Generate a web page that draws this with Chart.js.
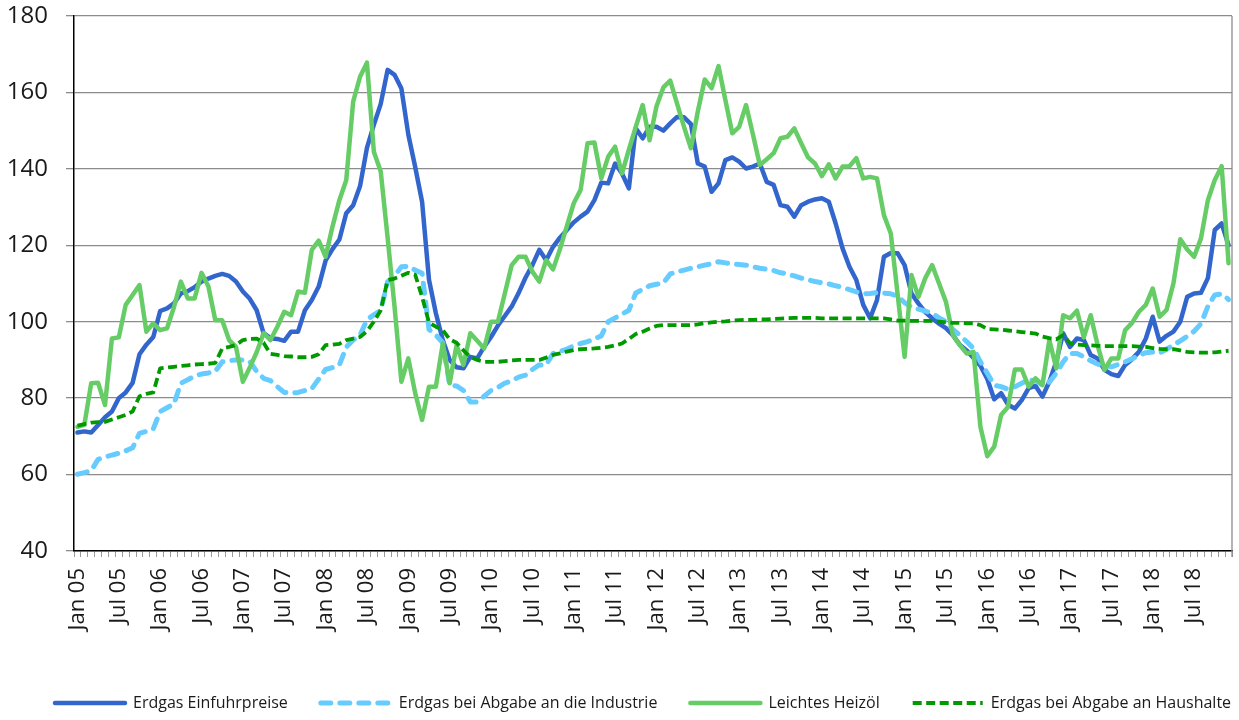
<!DOCTYPE html>
<html><head><meta charset="utf-8">
<script src="https://cdn.jsdelivr.net/npm/chart.js@4/dist/chart.umd.min.js"></script>
<style>html,body{margin:0;padding:0;background:#fff}#wrap{width:1239px;height:720px;position:relative}</style>
</head><body><div id="wrap"><canvas id="c"></canvas></div>
<script>
const monthNames = ['Jan','Feb','Mär','Apr','Mai','Jun','Jul','Aug','Sep','Okt','Nov','Dez'];
const yearLabels = ['05','06','07','08','09','10','11','12','13','14','15','16','17','18'];
const categories = [];
yearLabels.forEach(y => monthNames.forEach(m => categories.push(m + ' ' + y)));

const seriesNames = ['Erdgas Einfuhrpreise','Erdgas bei Abgabe an die Industrie','Leichtes Heizöl','Erdgas bei Abgabe an Haushalte'];

const einfuhr = [
71.0,71.3,71.0,73.0,75.0,76.5,80.0,81.5,84.0,91.5,94.0,96.0,
102.8,103.5,104.8,107.4,108.0,109.0,110.5,111.3,112.0,112.5,112.0,110.5,
107.9,106.0,103.0,97.0,95.7,95.5,95.0,97.4,97.4,103.0,105.7,109.2,
116.0,119.0,121.5,128.4,130.5,135.5,145.5,151.5,157.0,165.9,164.6,161.0,
149.0,140.5,131.4,111.0,102.2,95.2,90.0,88.1,87.8,90.8,90.4,93.4,
96.0,99.0,101.5,104.0,107.5,111.5,114.8,118.8,116.1,119.6,122.0,124.0,
126.0,127.5,128.8,131.8,136.4,136.2,141.4,138.8,134.9,150.6,148.0,151.0,
151.0,150.0,151.9,153.6,153.5,151.7,141.4,140.6,134.0,136.2,142.3,143.0,
141.9,140.1,140.6,141.4,136.6,135.8,130.5,130.1,127.5,130.5,131.4,132.0,
132.3,131.4,125.7,119.2,114.4,110.9,104.4,100.9,105.7,117.0,118.0,117.9,
114.8,107.4,104.8,102.5,100.9,99.5,98.3,96.5,94.0,92.5,90.5,88.5,
85.0,79.7,81.3,78.3,77.3,79.5,82.6,83.2,80.4,84.3,89.5,97.0,
93.4,95.6,95.2,91.3,90.4,87.4,86.3,85.8,88.7,90.2,92.1,95.6,
101.3,94.8,96.3,97.4,100.0,106.5,107.4,107.6,111.4,124.0,125.7,120.0];

const industrie = [
60.1,60.5,61.0,64.0,64.6,65.1,65.6,66.2,67.0,70.8,71.3,72.0,
76.5,77.5,78.5,83.9,84.8,85.8,86.3,86.6,87.0,89.5,89.8,90.0,
90.0,89.6,87.0,85.2,84.6,83.0,81.5,81.3,81.5,82.0,82.5,85.0,
87.5,88.0,88.7,93.4,95.2,96.5,100.5,101.8,103.0,110.5,112.0,114.4,
114.5,113.5,112.7,98.0,96.5,94.5,83.4,83.2,82.0,79.0,79.0,80.5,
82.0,82.8,83.9,84.6,85.5,86.0,87.5,88.7,88.7,91.7,92.3,92.8,
93.7,94.3,94.8,95.5,96.3,100.0,101.0,102.0,103.0,107.5,108.5,109.4,
109.8,110.1,112.5,113.1,113.5,114.0,114.4,114.8,115.2,115.7,115.4,115.1,
115.0,114.8,114.4,114.0,113.7,113.4,112.8,112.5,112.0,111.4,111.0,110.5,
110.2,109.9,109.4,109.0,108.4,107.8,107.3,107.4,107.6,107.5,107.3,106.7,
105.0,103.8,103.3,102.8,102.2,101.0,100.0,98.0,96.5,94.8,93.0,89.5,
86.5,83.4,83.0,82.3,83.0,83.9,84.8,84.5,83.4,84.2,86.5,89.5,
91.7,91.7,90.8,89.8,88.9,88.5,88.2,88.8,89.5,90.3,91.2,91.9,
92.1,91.8,92.8,93.9,95.0,96.2,97.5,99.5,104.0,107.0,107.3,105.8];

const heizoel = [
72.5,73.0,83.9,84.0,78.2,95.6,95.9,104.4,107.0,109.6,97.4,99.6,
97.8,98.3,103.8,110.5,106.1,106.1,112.8,109.2,100.4,100.4,95.2,93.4,
84.3,88.0,92.0,97.0,95.2,98.7,102.6,101.7,107.9,107.6,118.8,121.2,
117.0,124.9,131.8,137.1,157.6,164.1,167.8,144.5,139.3,122.0,104.0,84.3,
90.4,81.3,74.3,83.0,83.0,94.3,83.9,93.9,88.7,97.0,95.0,93.0,
100.0,100.0,107.4,114.8,117.0,117.0,113.1,110.5,116.1,113.7,119.0,125.0,
131.0,134.5,146.7,146.9,137.5,143.2,145.8,138.8,145.0,151.0,156.7,147.5,
156.3,161.3,163.1,157.0,151.0,145.4,155.0,163.4,161.1,166.9,158.0,149.3,
151.0,156.7,149.0,141.0,142.5,144.1,148.0,148.4,150.6,146.7,143.0,141.4,
138.1,141.2,137.5,140.6,140.7,142.8,137.5,137.9,137.5,127.9,123.1,107.0,
90.8,112.2,106.5,111.4,114.8,110.0,105.2,96.5,93.9,91.7,92.1,72.5,
64.8,67.3,75.6,77.7,87.5,87.5,83.0,85.2,83.4,95.2,87.8,101.7,
100.9,102.9,95.9,101.7,93.9,87.4,90.4,90.4,97.8,99.7,102.6,104.4,
108.7,101.3,103.1,110.0,121.6,118.9,117.0,121.8,131.8,137.1,140.7,115.3];

const haushalte = [
72.8,73.2,73.6,73.7,73.8,74.4,75.0,75.6,76.5,80.5,81.1,81.5,
87.8,88.0,88.2,88.4,88.6,88.8,88.9,89.0,89.2,93.0,93.4,93.9,
95.2,95.5,95.6,94.5,91.6,91.3,91.0,90.9,90.7,90.7,90.8,91.5,
93.9,94.0,94.2,95.2,95.6,96.0,97.5,100.0,103.0,110.9,111.3,112.0,
112.8,112.3,106.5,99.8,98.7,97.8,95.4,94.5,92.5,90.8,90.0,89.5,
89.5,89.5,89.7,89.9,90.0,90.0,90.0,90.0,90.6,91.3,91.7,92.2,
92.6,92.8,92.9,93.0,93.2,93.4,93.8,94.3,95.5,96.8,97.4,98.2,
98.9,99.1,99.1,99.1,99.1,99.1,99.3,99.6,99.8,100.0,100.1,100.3,
100.4,100.5,100.5,100.6,100.6,100.7,100.8,100.9,101.0,101.0,101.0,101.0,
100.9,100.9,100.9,100.9,100.9,100.9,100.9,100.9,100.9,100.9,100.6,100.3,
100.3,100.2,100.2,100.2,100.2,100.0,99.8,99.7,99.7,99.6,99.6,99.1,
98.1,98.0,97.9,97.7,97.5,97.3,97.1,96.9,96.1,95.7,95.4,96.5,
94.4,94.0,93.9,93.8,93.7,93.6,93.6,93.6,93.6,93.6,93.5,93.4,
93.1,92.9,92.8,92.8,92.5,92.1,92.0,91.9,91.9,92.0,92.2,92.4];

const yTicks = [40, 60, 80, 100, 120, 140, 160, 180];

Chart.defaults.font.family = "'Open Sans', 'DejaVu Sans', sans-serif";
Chart.defaults.color = '#1a1a1a';

const rightBorder = {
  id: 'rightBorder',
  beforeDatasetsDraw(chart) {
    const {ctx, chartArea: a} = chart;
    ctx.save();
    ctx.strokeStyle = '#8c8c8c';
    ctx.lineWidth = 1.3;
    ctx.beginPath();
    ctx.moveTo(a.right, a.top);
    ctx.lineTo(a.right, a.bottom + 6);
    ctx.stroke();
    ctx.restore();
  }
};

// widen legend spacing after the legend has been fitted on one row
const LEGEND_START = 55;
const legendSpacing = {
  id: 'legendSpacing',
  beforeLayout(chart) {
    if (chart.legend && chart.legend.options) chart.legend.options.labels.padding = 30;
  },
  afterLayout(chart) {
    const lg = chart.legend;
    if (!lg || !lg.lineWidths) return;
    const pad = 33;
    lg.options.labels.padding = pad;
    lg.right = 1400;
    lg.lineWidths[0] = lg.left + pad + lg.right - 2 * LEGEND_START;
  }
};

new Chart(document.getElementById('c'), {
  type: 'line',
  data: {
    labels: categories,
    datasets: [
      { label: seriesNames[0], data: einfuhr, borderColor: '#3366CC', borderWidth: 4.5, borderJoinStyle: 'round', borderCapStyle: 'round', order: 3 },
      { label: seriesNames[1], data: industrie, borderColor: '#66CCFF', borderWidth: 5, borderDash: [10, 9], borderCapStyle: 'round', borderJoinStyle: 'round', order: 2 },
      { label: seriesNames[2], data: heizoel, borderColor: '#66CC66', borderWidth: 4.5, borderJoinStyle: 'round', borderCapStyle: 'round', order: 1 },
      { label: seriesNames[3], data: haushalte, borderColor: '#009900', borderWidth: 3.8, borderDash: [9, 4.5], borderCapStyle: 'butt', borderJoinStyle: 'round', order: 0 }
    ]
  },
  options: {
    responsive: true,
    maintainAspectRatio: false,
    animation: false,
    devicePixelRatio: 1,
    layout: { padding: { top: 16, right: 7, bottom: 2, left: 0 } },
    elements: { point: { radius: 0, hoverRadius: 0 }, line: { tension: 0, fill: false } },
    plugins: {
      tooltip: { enabled: false },
      legend: {
        position: 'bottom',
        labels: {
          usePointStyle: true,
          pointStyle: 'line',
          pointStyleWidth: 70,
          padding: 30,
          color: '#1a1a1a',
          font: { size: 16 },
          generateLabels(chart) {
            const items = Chart.defaults.plugins.legend.labels.generateLabels(chart);
            items.forEach(it => {
              const ds = chart.data.datasets[it.datasetIndex];
              it.lineWidth = ds.borderWidth;
              it.lineDash = ds.borderDash || [];
              it.lineCap = ds.borderCapStyle;
              it.strokeStyle = ds.borderColor;
              it.pointStyle = 'line';
            });
            return items.sort((a, b) => a.datasetIndex - b.datasetIndex);
          }
        }
      }
    },
    scales: {
      x: {
        type: 'category',
        offset: true,
        afterFit(scale) { scale.height = 111; scale.paddingLeft = 0; scale.paddingRight = 0; },
        border: { color: '#000', width: 1.5 },
        grid: { drawOnChartArea: false, drawTicks: true, tickLength: 6, offset: true, color: '#9a9a9a', lineWidth: 1 },
        ticks: {
          autoSkip: false,
          maxRotation: 90,
          minRotation: 90,
          padding: 11,
          color: '#1a1a1a',
          font: { size: 22 },
          callback(v, i) { return i % 6 === 0 ? categories[i] : ''; }
        }
      },
      y: {
        min: yTicks[0],
        max: yTicks[yTicks.length - 1],
        afterFit(scale) { scale.width = 74; scale.paddingTop = 0; scale.paddingBottom = 0; },
        afterBuildTicks(scale) { scale.ticks = yTicks.map(v => ({ value: v })); },
        border: { color: '#000', width: 1.5 },
        grid: { color: '#8c8c8c', lineWidth: 1.3, tickLength: 8, drawTicks: true },
        ticks: { padding: 18, color: '#1a1a1a', font: { size: 24 } }
      }
    }
  },
  plugins: [rightBorder, legendSpacing]
});
</script>
</body></html>
